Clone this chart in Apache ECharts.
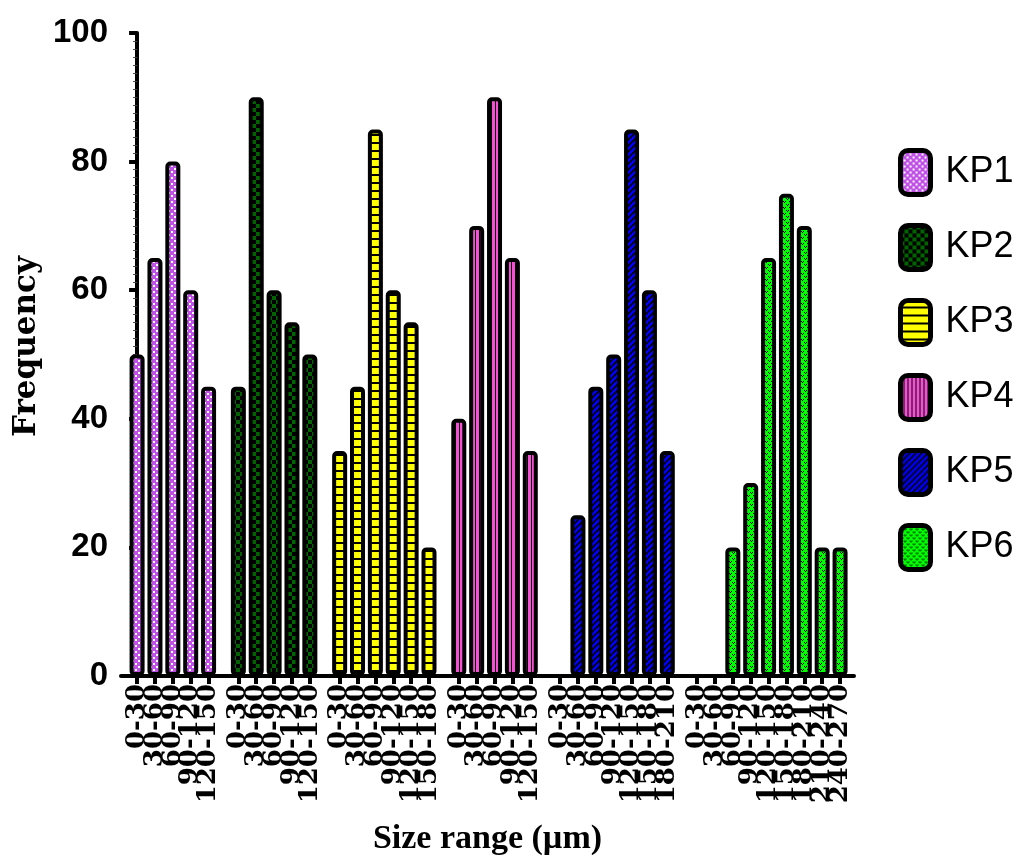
<!DOCTYPE html>
<html>
<head>
<meta charset="utf-8">
<script src="https://cdn.jsdelivr.net/npm/echarts@6/dist/echarts.min.js"></script>
<style>
html,body{margin:0;padding:0;background:#fff;}
#chart{width:1019px;height:866px;}
</style>
</head>
<body>
<div id="chart"></div>
<script>
// ---- data ----
const seriesNames = ['KP1', 'KP2', 'KP3', 'KP4', 'KP5', 'KP6'];
const labelsKP1 = ['0-30', '30-60', '60-90', '90-120', '120-150'];
const labelsKP2 = ['0-30', '30-60', '60-90', '90-120', '120-150'];
const labelsKP3 = ['0-30', '30-60', '60-90', '90-120', '120-150', '150-180'];
const labelsKP4 = ['0-30', '30-60', '60-90', '90-120', '120-150'];
const labelsKP5 = ['0-30', '30-60', '60-90', '90-120', '120-150', '150-180', '180-210'];
const labelsKP6 = ['0-30', '30-60', '60-90', '90-120', '120-150', '150-180', '180-210', '210-240', '240-270'];
const valuesKP1 = [50, 65, 80, 60, 45];
const valuesKP2 = [45, 90, 60, 55, 50];
const valuesKP3 = [35, 45, 85, 60, 55, 20];
const valuesKP4 = [40, 70, 90, 65, 35];
const valuesKP5 = [0, 25, 45, 50, 85, 60, 35];
const valuesKP6 = [0, 0, 20, 30, 65, 75, 70, 20, 20];
const yTicks = [0, 20, 40, 60, 80, 100];

const groupLabels = [labelsKP1, labelsKP2, labelsKP3, labelsKP4, labelsKP5, labelsKP6];
const groupValues = [valuesKP1, valuesKP2, valuesKP3, valuesKP4, valuesKP5, valuesKP6];

// ---- patterns ----
function makePattern(w, h, draw) {
  const c = document.createElement('canvas');
  c.width = w; c.height = h;
  const ctx = c.getContext('2d');
  draw(ctx, w, h);
  return { image: c, repeat: 'repeat' };
}
const patterns = [
  makePattern(6, 6, (ctx) => { // purple with white dots
    ctx.fillStyle = '#c050e6'; ctx.fillRect(0, 0, 6, 6);
    ctx.fillStyle = '#ffffff'; ctx.fillRect(0, 0, 2, 2); ctx.fillRect(3, 3, 2, 2);
  }),
  makePattern(8, 8, (ctx) => { // dark green / black checker
    ctx.fillStyle = '#000000'; ctx.fillRect(0, 0, 8, 8);
    ctx.fillStyle = '#006400'; ctx.fillRect(0, 0, 4, 4); ctx.fillRect(4, 4, 4, 4);
  }),
  makePattern(4, 8, (ctx) => { // yellow horizontal lines
    ctx.fillStyle = '#ffff00'; ctx.fillRect(0, 0, 4, 8);
    ctx.fillStyle = '#000000'; ctx.fillRect(0, 6, 4, 2);
  }),
  makePattern(4, 4, (ctx) => { // pink vertical lines
    ctx.fillStyle = '#f550d4'; ctx.fillRect(0, 0, 4, 4);
    ctx.fillStyle = '#000000'; ctx.fillRect(3, 0, 1, 4);
  }),
  makePattern(6, 6, (ctx) => { // blue diagonal lines
    ctx.fillStyle = '#0000ff'; ctx.fillRect(0, 0, 6, 6);
    ctx.strokeStyle = '#000000'; ctx.lineWidth = 1.6;
    ctx.beginPath();
    ctx.moveTo(-1, 7); ctx.lineTo(7, -1);
    ctx.moveTo(-4, 4); ctx.lineTo(4, -4);
    ctx.moveTo(2, 10); ctx.lineTo(10, 2);
    ctx.stroke();
  }),
  makePattern(6, 6, (ctx) => { // green with black dots
    ctx.fillStyle = '#00ff00'; ctx.fillRect(0, 0, 6, 6);
    ctx.fillStyle = '#000000';
    ctx.fillRect(0, 0, 1, 1); ctx.fillRect(2, 0, 1, 1); ctx.fillRect(1, 1, 1, 1);
    ctx.fillRect(3, 3, 1, 1); ctx.fillRect(5, 3, 1, 1); ctx.fillRect(4, 4, 1, 1);
  })
];

// ---- positions along x (group gap of 2/3 slot) ----
const GAP = 2 / 3;
const tickPositions = [];
const labelMap = {};
const seriesData = [];
let start = 0;
groupLabels.forEach((labels, g) => {
  const data = [];
  labels.forEach((lab, i) => {
    const p = start + i;
    tickPositions.push(p);
    labelMap[Math.round(p * 1000)] = lab;
    const v = groupValues[g][i];
    if (v === 0) {
      data.push({ value: [p, v], itemStyle: { opacity: 0, borderWidth: 0 } });
    } else {
      data.push([p, v]);
    }
  });
  seriesData.push(data);
  start += labels.length + GAP;
});
const lastPos = tickPositions[tickPositions.length - 1];
const xMin = -0.9;
const xMax = lastPos + 0.78;
// empty labels at the axis ends so the end-label handling doesn't drop real labels
const labelPositions = [xMin].concat(tickPositions, [xMax]);

const serifRot = "'DejaVu Serif', serif";
const sans = "'Liberation Sans', Arial, sans-serif";

const chart = echarts.init(document.getElementById('chart'), null, { renderer: 'canvas' });
chart.setOption({
  animation: false,
  backgroundColor: '#ffffff',
  grid: { left: 121, right: 165, top: 33, bottom: 190, outerBoundsMode: 'none', containLabel: false },
  legend: {
    orient: 'vertical',
    left: 893,
    top: 143,
    itemWidth: 30,
    itemHeight: 44,
    itemGap: 26,
    icon: 'roundRect',
    data: seriesNames,
    itemStyle: { borderColor: '#000', borderWidth: 5 },
    textStyle: {
      fontFamily: sans,
      fontSize: 36,
      lineHeight: 44,
      color: '#000',
      padding: [0, 0, 0, 10]
    }
  },
  xAxis: {
    type: 'value',
    min: xMin,
    max: xMax,
    name: 'Size range (µm)',
    nameLocation: 'middle',
    nameGap: 146,
    nameTextStyle: { fontFamily: "'Liberation Serif', serif", fontWeight: 'bold', fontSize: 34, color: '#000' },
    splitLine: { show: false },
    axisLine: { show: true, onZero: false, lineStyle: { color: '#000', width: 4 } },
    axisTick: { show: true, customValues: tickPositions, length: 8, lineStyle: { color: '#000', width: 4 } },
    axisLabel: {
      customValues: labelPositions,
      hideOverlap: false,
      rotate: 90,
      margin: 8,
      fontFamily: serifRot,
      fontWeight: 'bold',
      fontSize: 26,
      lineHeight: 14,
      color: '#000',
      formatter: (v) => labelMap[Math.round(v * 1000)] || ''
    }
  },
  yAxis: {
    type: 'value',
    min: 0,
    max: 100,
    interval: 20,
    name: 'Frequency',
    nameLocation: 'middle',
    nameGap: 79,
    nameTextStyle: { fontFamily: serifRot, fontWeight: 'bold', fontSize: 31, color: '#000', padding: [0, 0, 0, 16] },
    splitLine: { show: false },
    axisLine: { show: true, lineStyle: { color: '#000', width: 4 } },
    axisTick: { show: true, length: 8, lineStyle: { color: '#000', width: 4 } },
    minorTick: { show: true, splitNumber: 16, length: 4, lineStyle: { color: '#444', width: 1 } },
    axisLabel: {
      margin: 13,
      fontFamily: sans,
      fontWeight: 'bold',
      fontSize: 33,
      color: '#000',
      formatter: (v) => yTicks.includes(v) ? String(v) : ''
    }
  },
  series: seriesNames.map((name, g) => ({
    name: name,
    type: 'bar',
    barWidth: 15,
    barGap: '-100%',
    data: seriesData[g],
    itemStyle: {
      color: patterns[g],
      borderColor: '#000',
      borderWidth: 4,
      borderRadius: 3
    }
  }))
});
</script>
</body>
</html>
